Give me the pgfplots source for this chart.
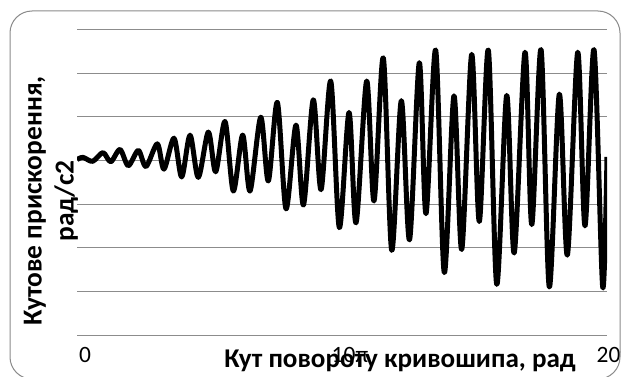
\documentclass[border=0pt]{standalone}
\usepackage{pgfplots}
\pgfplotsset{compat=1.18}
\usepackage{fontspec}
\setmainfont{Carlito}
\definecolor{gridgray}{HTML}{8C8C8C}
\definecolor{bordergray}{HTML}{8A8A8A}
\begin{document}
\begin{tikzpicture}[x=1bp,y=1bp]
\path[use as bounding box] (0,0) rectangle (624,376);
\begin{scope}
\clip[rounded corners=22bp] (10,-3) rectangle (620,365);
\begin{axis}[
  at={(77bp,41bp)}, anchor=south west,
  scale only axis, width=530bp, height=305.5bp,
  xmin=0, xmax=62.832, ymin=-4, ymax=3,
  ytick={-4,-3,-2,-1,0,1,2,3}, yticklabels={},
  ymajorgrids, major grid style={gridgray, line width=0.9bp},
  axis line style={draw=none}, major tick length=0pt,
  xtick={0,31.416,62.832}, xticklabels={0,10π,20π},
  xticklabel style={font=\fontsize{23.5}{28}\selectfont, xshift=8bp, yshift=-9bp},
]
\addplot[black, line width=5bp, smooth, tension=0.5, line join=round] coordinates {
(0,0.02) (0.71,0.07) (1.86,-0.02) (3.08,0.18) (4.00,-0.03) (5.10,0.25)
(6.08,-0.12) (7.27,0.23) (8.18,-0.14) (9.52,0.38) (10.31,-0.20) (11.50,0.51)
(12.41,-0.38) (13.40,0.58) (14.38,-0.39) (15.57,0.65) (16.44,-0.26) (17.55,0.89)
(18.53,-0.70) (19.64,0.58) (20.51,-0.70) (21.78,0.99) (22.68,-0.47) (23.75,1.33)
(24.78,-1.11) (25.96,0.81) (26.85,-1.02) (28.01,1.39) (28.93,-0.67) (30.08,1.82)
(31.10,-1.54) (32.25,1.10) (33.08,-1.43) (34.34,1.82) (35.21,-0.93) (36.31,2.35)
(37.31,-2.06) (38.45,1.37) (39.42,-1.82) (40.58,2.24) (41.37,-1.22) (42.52,2.53)
(43.54,-2.57) (44.69,1.48) (45.61,-2.04) (46.79,2.43) (47.69,-1.40) (48.76,2.53)
(49.76,-2.84) (50.94,1.49) (51.83,-2.12) (53.11,2.48) (53.91,-1.47) (55.01,2.54)
(55.99,-2.90) (57.18,1.52) (58.13,-2.17) (59.36,2.48) (60.22,-1.50) (61.29,2.54)
(62.32,-2.90) (62.83,0.08)
};
\end{axis}
\node[font=\bfseries\fontsize{27.2}{32}\selectfont, anchor=base] at (400,9) {Кут повороту кривошипа, рад};
\node[font=\bfseries\fontsize{27.5}{32}\selectfont, rotate=90, align=center] at (51,175) {Кутове прискорення,\\рад/с2};
\end{scope}
\draw[bordergray, line width=1bp, rounded corners=22bp] (10,-3) rectangle (620,365);
\end{tikzpicture}
\end{document}
